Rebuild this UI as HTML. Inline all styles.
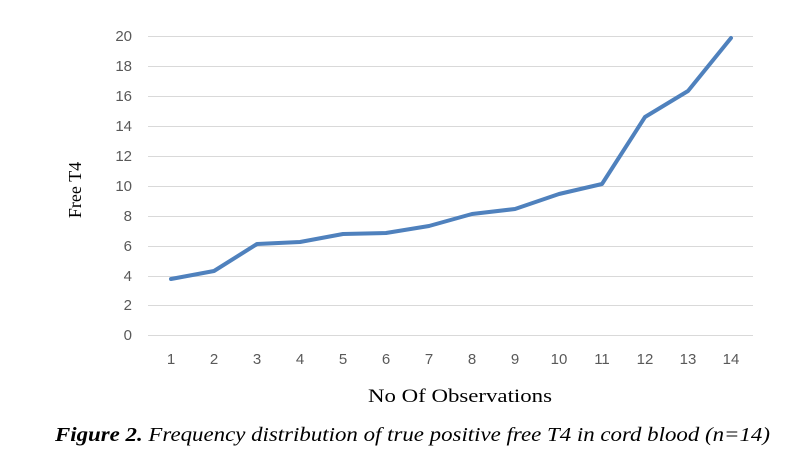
<!DOCTYPE html>
<html><head><style>body{margin:0;background:#fff}</style></head><body>
<svg width="804" height="456" xmlns="http://www.w3.org/2000/svg" font-family="Liberation Sans, sans-serif">
<g stroke="#d9d9d9" stroke-width="1">
<line x1="148" x2="753" y1="36.5" y2="36.5"/><line x1="148" x2="753" y1="66.5" y2="66.5"/>
<line x1="148" x2="753" y1="96.5" y2="96.5"/><line x1="148" x2="753" y1="126.5" y2="126.5"/>
<line x1="148" x2="753" y1="156.5" y2="156.5"/><line x1="148" x2="753" y1="186.5" y2="186.5"/>
<line x1="148" x2="753" y1="216.5" y2="216.5"/><line x1="148" x2="753" y1="246.5" y2="246.5"/>
<line x1="148" x2="753" y1="276.5" y2="276.5"/><line x1="148" x2="753" y1="305.5" y2="305.5"/>
<line x1="148" x2="753" y1="335.5" y2="335.5"/>
</g>
<g fill="#595959" font-size="15" text-anchor="end">
<text x="132" y="41">20</text><text x="132" y="71">18</text><text x="132" y="101">16</text>
<text x="132" y="131">14</text><text x="132" y="161">12</text><text x="132" y="191">10</text>
<text x="132" y="221">8</text><text x="132" y="251">6</text><text x="132" y="281">4</text>
<text x="132" y="310">2</text><text x="132" y="340">0</text>
</g>
<g fill="#595959" font-size="15" text-anchor="middle">
<text x="171" y="364">1</text><text x="214" y="364">2</text><text x="257" y="364">3</text>
<text x="300" y="364">4</text><text x="343" y="364">5</text><text x="386" y="364">6</text>
<text x="429" y="364">7</text><text x="472" y="364">8</text><text x="515" y="364">9</text>
<text x="559" y="364">10</text><text x="602" y="364">11</text><text x="645" y="364">12</text>
<text x="688" y="364">13</text><text x="731" y="364">14</text>
</g>
<polyline fill="none" stroke="#4f81bd" stroke-width="4" stroke-linejoin="round" stroke-linecap="round"
points="171,279 214,271 257,244 300,242 343,234 386,233 429,226 472,214 515,209 559,194 602,184 645,117 688,91 731,38"/>
<text x="368" y="402" font-family="Liberation Serif, serif" font-size="19" textLength="184" lengthAdjust="spacingAndGlyphs" fill="#000">No Of  Observations</text>
<text transform="translate(81,190) rotate(-90)" font-family="Liberation Serif, serif" font-size="18" text-anchor="middle" fill="#000">Free T4</text>
<text x="55" y="441" font-family="Liberation Serif, serif" font-size="20" font-style="italic" textLength="715" lengthAdjust="spacingAndGlyphs" fill="#000"><tspan font-weight="bold">Figure 2.</tspan> Frequency distribution of true positive free T4 in cord blood (n=14)</text>
</svg>
</body></html>
